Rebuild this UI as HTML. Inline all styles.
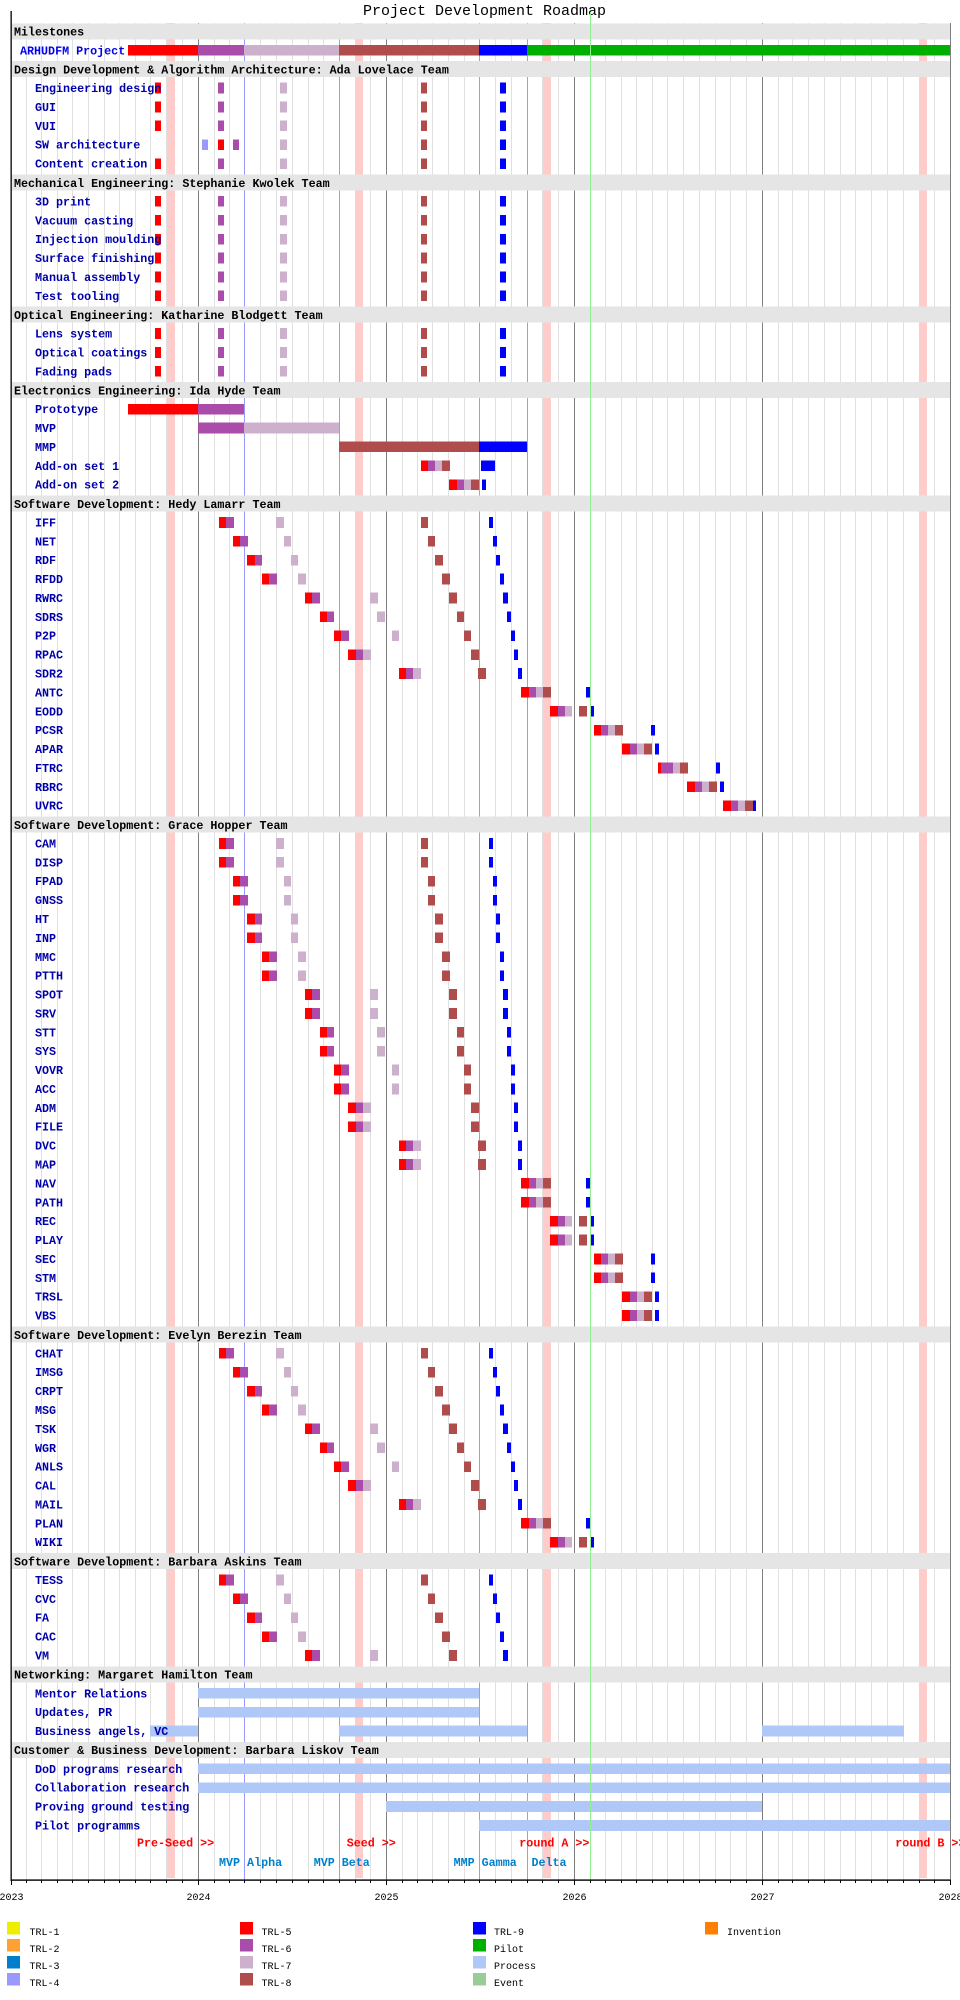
<!DOCTYPE html>
<html><head><meta charset="utf-8"><title>Project Development Roadmap</title>
<style>
html,body{margin:0;padding:0;background:#fff;}
svg{display:block;}
text{font-family:"Liberation Mono","DejaVu Sans Mono",monospace;}
.h{font-size:11.7px;font-weight:bold;fill:#000;}
.l{font-size:11.7px;font-weight:bold;fill:#0000aa;}
.ax{font-size:10px;fill:#000;}
.lg{font-size:10px;fill:#000;}
.an{font-size:11.7px;font-weight:bold;}
</style></head><body>
<svg width="960" height="2000" viewBox="0 0 960 2000" xmlns="http://www.w3.org/2000/svg">
<defs>
<g id="M" shape-rendering="crispEdges"><rect x="155" y="-5.35" width="6" height="10.7" fill="#ff0000"/><rect x="218" y="-5.35" width="6" height="10.7" fill="#aa4daa"/><rect x="280" y="-5.35" width="7" height="10.7" fill="#ccb0cc"/><rect x="421" y="-5.35" width="6" height="10.7" fill="#b04c4c"/><rect x="500" y="-5.35" width="6" height="10.7" fill="#0000ff"/></g>
<g id="SWA" shape-rendering="crispEdges"><rect x="202" y="-5.35" width="6" height="10.7" fill="#9999ff"/><rect x="218" y="-5.35" width="6" height="10.7" fill="#ff0000"/><rect x="233" y="-5.35" width="6" height="10.7" fill="#aa4daa"/><rect x="280" y="-5.35" width="7" height="10.7" fill="#ccb0cc"/><rect x="421" y="-5.35" width="6" height="10.7" fill="#b04c4c"/><rect x="500" y="-5.35" width="6" height="10.7" fill="#0000ff"/></g>
<g id="IFF" shape-rendering="crispEdges"><rect x="219" y="-5.35" width="7" height="10.7" fill="#ff0000"/><rect x="226" y="-5.35" width="8" height="10.7" fill="#aa4daa"/><rect x="276" y="-5.35" width="8" height="10.7" fill="#ccb0cc"/><rect x="421" y="-5.35" width="7" height="10.7" fill="#b04c4c"/><rect x="489" y="-5.35" width="4" height="10.7" fill="#0000ff"/></g>
<g id="NET" shape-rendering="crispEdges"><rect x="233" y="-5.35" width="7" height="10.7" fill="#ff0000"/><rect x="240" y="-5.35" width="8" height="10.7" fill="#aa4daa"/><rect x="284" y="-5.35" width="7" height="10.7" fill="#ccb0cc"/><rect x="428" y="-5.35" width="7" height="10.7" fill="#b04c4c"/><rect x="493" y="-5.35" width="4" height="10.7" fill="#0000ff"/></g>
<g id="RDF" shape-rendering="crispEdges"><rect x="247" y="-5.35" width="8" height="10.7" fill="#ff0000"/><rect x="255" y="-5.35" width="7" height="10.7" fill="#aa4daa"/><rect x="291" y="-5.35" width="7" height="10.7" fill="#ccb0cc"/><rect x="435" y="-5.35" width="8" height="10.7" fill="#b04c4c"/><rect x="496" y="-5.35" width="4" height="10.7" fill="#0000ff"/></g>
<g id="RFDD" shape-rendering="crispEdges"><rect x="262" y="-5.35" width="7" height="10.7" fill="#ff0000"/><rect x="269" y="-5.35" width="8" height="10.7" fill="#aa4daa"/><rect x="298" y="-5.35" width="8" height="10.7" fill="#ccb0cc"/><rect x="442" y="-5.35" width="8" height="10.7" fill="#b04c4c"/><rect x="500" y="-5.35" width="4" height="10.7" fill="#0000ff"/></g>
<g id="RWRC" shape-rendering="crispEdges"><rect x="305" y="-5.35" width="7" height="10.7" fill="#ff0000"/><rect x="312" y="-5.35" width="8" height="10.7" fill="#aa4daa"/><rect x="370" y="-5.35" width="8" height="10.7" fill="#ccb0cc"/><rect x="449" y="-5.35" width="8" height="10.7" fill="#b04c4c"/><rect x="503" y="-5.35" width="5" height="10.7" fill="#0000ff"/></g>
<g id="SDRS" shape-rendering="crispEdges"><rect x="320" y="-5.35" width="7" height="10.7" fill="#ff0000"/><rect x="327" y="-5.35" width="7" height="10.7" fill="#aa4daa"/><rect x="377" y="-5.35" width="8" height="10.7" fill="#ccb0cc"/><rect x="457" y="-5.35" width="7" height="10.7" fill="#b04c4c"/><rect x="507" y="-5.35" width="4" height="10.7" fill="#0000ff"/></g>
<g id="P2P" shape-rendering="crispEdges"><rect x="334" y="-5.35" width="7" height="10.7" fill="#ff0000"/><rect x="341" y="-5.35" width="8" height="10.7" fill="#aa4daa"/><rect x="392" y="-5.35" width="7" height="10.7" fill="#ccb0cc"/><rect x="464" y="-5.35" width="7" height="10.7" fill="#b04c4c"/><rect x="511" y="-5.35" width="4" height="10.7" fill="#0000ff"/></g>
<g id="RPAC" shape-rendering="crispEdges"><rect x="348" y="-5.35" width="8" height="10.7" fill="#ff0000"/><rect x="356" y="-5.35" width="7" height="10.7" fill="#aa4daa"/><rect x="363" y="-5.35" width="8" height="10.7" fill="#ccb0cc"/><rect x="471" y="-5.35" width="8" height="10.7" fill="#b04c4c"/><rect x="514" y="-5.35" width="4" height="10.7" fill="#0000ff"/></g>
<g id="SDR2" shape-rendering="crispEdges"><rect x="399" y="-5.35" width="7" height="10.7" fill="#ff0000"/><rect x="406" y="-5.35" width="7" height="10.7" fill="#aa4daa"/><rect x="413" y="-5.35" width="8" height="10.7" fill="#ccb0cc"/><rect x="478" y="-5.35" width="8" height="10.7" fill="#b04c4c"/><rect x="518" y="-5.35" width="4" height="10.7" fill="#0000ff"/></g>
<g id="ANTC" shape-rendering="crispEdges"><rect x="521" y="-5.35" width="8" height="10.7" fill="#ff0000"/><rect x="529" y="-5.35" width="7" height="10.7" fill="#aa4daa"/><rect x="536" y="-5.35" width="7" height="10.7" fill="#ccb0cc"/><rect x="543" y="-5.35" width="8" height="10.7" fill="#b04c4c"/><rect x="586" y="-5.35" width="4" height="10.7" fill="#0000ff"/></g>
<g id="EODD" shape-rendering="crispEdges"><rect x="550" y="-5.35" width="8" height="10.7" fill="#ff0000"/><rect x="558" y="-5.35" width="7" height="10.7" fill="#aa4daa"/><rect x="565" y="-5.35" width="7" height="10.7" fill="#ccb0cc"/><rect x="579" y="-5.35" width="8" height="10.7" fill="#b04c4c"/><rect x="591" y="-5.35" width="3" height="10.7" fill="#0000ff"/></g>
<g id="PCSR" shape-rendering="crispEdges"><rect x="594" y="-5.35" width="7" height="10.7" fill="#ff0000"/><rect x="601" y="-5.35" width="7" height="10.7" fill="#aa4daa"/><rect x="608" y="-5.35" width="7" height="10.7" fill="#ccb0cc"/><rect x="615" y="-5.35" width="8" height="10.7" fill="#b04c4c"/><rect x="651" y="-5.35" width="4" height="10.7" fill="#0000ff"/></g>
<g id="APAR" shape-rendering="crispEdges"><rect x="622" y="-5.35" width="8" height="10.7" fill="#ff0000"/><rect x="630" y="-5.35" width="7" height="10.7" fill="#aa4daa"/><rect x="637" y="-5.35" width="7" height="10.7" fill="#ccb0cc"/><rect x="644" y="-5.35" width="8" height="10.7" fill="#b04c4c"/><rect x="655" y="-5.35" width="4" height="10.7" fill="#0000ff"/></g>
<g id="FTRC" shape-rendering="crispEdges"><rect x="658" y="-5.35" width="3" height="10.7" fill="#ff0000"/><rect x="661" y="-5.35" width="12" height="10.7" fill="#aa4daa"/><rect x="673" y="-5.35" width="7" height="10.7" fill="#ccb0cc"/><rect x="680" y="-5.35" width="8" height="10.7" fill="#b04c4c"/><rect x="716" y="-5.35" width="4" height="10.7" fill="#0000ff"/></g>
<g id="RBRC" shape-rendering="crispEdges"><rect x="687" y="-5.35" width="8" height="10.7" fill="#ff0000"/><rect x="695" y="-5.35" width="7" height="10.7" fill="#aa4daa"/><rect x="702" y="-5.35" width="7" height="10.7" fill="#ccb0cc"/><rect x="709" y="-5.35" width="8" height="10.7" fill="#b04c4c"/><rect x="720" y="-5.35" width="4" height="10.7" fill="#0000ff"/></g>
<g id="UVRC" shape-rendering="crispEdges"><rect x="723" y="-5.35" width="8" height="10.7" fill="#ff0000"/><rect x="731" y="-5.35" width="7" height="10.7" fill="#aa4daa"/><rect x="738" y="-5.35" width="7" height="10.7" fill="#ccb0cc"/><rect x="745" y="-5.35" width="8" height="10.7" fill="#b04c4c"/><rect x="753" y="-5.35" width="3" height="10.7" fill="#0000ff"/></g>
</defs>

<rect x="0" y="0" width="960" height="2000" fill="#ffffff"/>

<!-- title -->
<text x="484.5" y="15" text-anchor="middle" style="font-size:15px;fill:#000">Project Development Roadmap</text>

<!-- month grid lines -->
<path shape-rendering="crispEdges" stroke="#e0e0e0" stroke-width="1" fill="none" d="M26.5 23V1880M41.5 23V1880M57.5 23V1880M72.5 23V1880M88.5 23V1880M104.5 23V1880M119.5 23V1880M135.5 23V1880M150.5 23V1880M166.5 23V1880M182.5 23V1880M214.5 23V1880M229.5 23V1880M260.5 23V1880M276.5 23V1880M292.5 23V1880M308.5 23V1880M323.5 23V1880M355.5 23V1880M370.5 23V1880M402.5 23V1880M417.5 23V1880M432.5 23V1880M448.5 23V1880M464.5 23V1880M495.5 23V1880M511.5 23V1880M542.5 23V1880M558.5 23V1880M605.5 23V1880M621.5 23V1880M636.5 23V1880M652.5 23V1880M667.5 23V1880M683.5 23V1880M699.5 23V1880M715.5 23V1880M730.5 23V1880M746.5 23V1880M778.5 23V1880M792.5 23V1880M808.5 23V1880M824.5 23V1880M840.5 23V1880M855.5 23V1880M871.5 23V1880M887.5 23V1880M903.5 23V1880M919.5 23V1880M934.5 23V1880"/>
<!-- year lines -->
<path shape-rendering="crispEdges" stroke="#808080" stroke-width="1" fill="none" d="M198.5 23V1880M386.5 23V1880M574.5 23V1880M762.5 23V1880M950.5 23V1880"/>
<!-- pink bands -->
<g fill="#ffcccc" shape-rendering="crispEdges">
<rect x="167" y="23" width="8" height="1855"/>
<rect x="355" y="23" width="8" height="1855"/>
<rect x="543" y="23" width="8" height="1855"/>
<rect x="919" y="23" width="8" height="1855"/>
</g>
<!-- milestone blue lines -->
<path shape-rendering="crispEdges" stroke="#9999ff" stroke-width="1" fill="none" d="M244.5 23V1880M339.5 23V1880M479.5 23V1880M527.5 23V1880"/>

<!-- header bands -->
<g fill="#e5e5e5" shape-rendering="crispEdges">
<rect x="11" y="23.4" width="939" height="16"/>
<rect x="11" y="61.17" width="939" height="16"/>
<rect x="11" y="174.48" width="939" height="16"/>
<rect x="11" y="306.68" width="939" height="16"/>
<rect x="11" y="382.22" width="939" height="16"/>
<rect x="11" y="495.53" width="939" height="16"/>
<rect x="11" y="816.57" width="939" height="16"/>
<rect x="11" y="1326.47" width="939" height="16"/>
<rect x="11" y="1553.09" width="939" height="16"/>
<rect x="11" y="1666.4" width="939" height="16"/>
<rect x="11" y="1741.94" width="939" height="16"/>
</g>

<!-- Milestone bar -->
<g shape-rendering="crispEdges" transform="translate(0,50.29)">
<rect x="128" y="-5.35" width="70" height="10.7" fill="#ff0000"/>
<rect x="198" y="-5.35" width="46" height="10.7" fill="#aa4daa"/>
<rect x="244" y="-5.35" width="95" height="10.7" fill="#ccb0cc"/>
<rect x="339" y="-5.35" width="140" height="10.7" fill="#b04c4c"/>
<rect x="479" y="-5.35" width="48" height="10.7" fill="#0000ff"/>
<rect x="527" y="-5.35" width="423" height="10.7" fill="#00b000"/>
</g>

<!-- Design / Mechanical / Optical -->
<use href="#M" y="88.06"/><use href="#M" y="106.94"/><use href="#M" y="125.83"/><use href="#SWA" y="144.71"/><use href="#M" y="163.6"/>
<use href="#M" y="201.37"/><use href="#M" y="220.25"/><use href="#M" y="239.14"/><use href="#M" y="258.02"/><use href="#M" y="276.91"/><use href="#M" y="295.79"/>
<use href="#M" y="333.56"/><use href="#M" y="352.45"/><use href="#M" y="371.33"/>

<!-- Electronics -->
<g shape-rendering="crispEdges">
<g transform="translate(0,409.1)"><rect x="128" y="-5.35" width="70" height="10.7" fill="#ff0000"/><rect x="198" y="-5.35" width="46" height="10.7" fill="#aa4daa"/></g>
<g transform="translate(0,427.99)"><rect x="198" y="-5.35" width="46" height="10.7" fill="#aa4daa"/><rect x="244" y="-5.35" width="95" height="10.7" fill="#ccb0cc"/></g>
<g transform="translate(0,446.87)"><rect x="339" y="-5.35" width="140" height="10.7" fill="#b04c4c"/><rect x="479" y="-5.35" width="48" height="10.7" fill="#0000ff"/></g>
<g transform="translate(0,465.76)"><rect x="421" y="-5.35" width="7" height="10.7" fill="#ff0000"/><rect x="428" y="-5.35" width="7" height="10.7" fill="#aa4daa"/><rect x="435" y="-5.35" width="7" height="10.7" fill="#ccb0cc"/><rect x="442" y="-5.35" width="8" height="10.7" fill="#b04c4c"/><rect x="481" y="-5.35" width="14" height="10.7" fill="#0000ff"/></g>
<g transform="translate(0,484.64)"><rect x="449" y="-5.35" width="8" height="10.7" fill="#ff0000"/><rect x="457" y="-5.35" width="7" height="10.7" fill="#aa4daa"/><rect x="464" y="-5.35" width="7" height="10.7" fill="#ccb0cc"/><rect x="471" y="-5.35" width="8" height="10.7" fill="#b04c4c"/><rect x="482" y="-5.35" width="4" height="10.7" fill="#0000ff"/></g>
</g>

<!-- Hedy -->
<use href="#IFF" y="522.41"/><use href="#NET" y="541.3"/><use href="#RDF" y="560.18"/><use href="#RFDD" y="579.07"/><use href="#RWRC" y="597.95"/><use href="#SDRS" y="616.84"/><use href="#P2P" y="635.72"/><use href="#RPAC" y="654.61"/><use href="#SDR2" y="673.49"/><use href="#ANTC" y="692.38"/><use href="#EODD" y="711.26"/><use href="#PCSR" y="730.15"/><use href="#APAR" y="749.03"/><use href="#FTRC" y="767.92"/><use href="#RBRC" y="786.8"/><use href="#UVRC" y="805.69"/>

<!-- Grace -->
<use href="#IFF" y="843.46"/><use href="#IFF" y="862.34"/><use href="#NET" y="881.23"/><use href="#NET" y="900.11"/><use href="#RDF" y="919.0"/><use href="#RDF" y="937.88"/><use href="#RFDD" y="956.77"/><use href="#RFDD" y="975.65"/><use href="#RWRC" y="994.54"/><use href="#RWRC" y="1013.42"/><use href="#SDRS" y="1032.31"/><use href="#SDRS" y="1051.19"/><use href="#P2P" y="1070.08"/><use href="#P2P" y="1088.96"/><use href="#RPAC" y="1107.85"/><use href="#RPAC" y="1126.73"/><use href="#SDR2" y="1145.62"/><use href="#SDR2" y="1164.5"/><use href="#ANTC" y="1183.39"/><use href="#ANTC" y="1202.27"/><use href="#EODD" y="1221.16"/><use href="#EODD" y="1240.04"/><use href="#PCSR" y="1258.93"/><use href="#PCSR" y="1277.81"/><use href="#APAR" y="1296.7"/><use href="#APAR" y="1315.58"/>

<!-- Evelyn -->
<use href="#IFF" y="1353.35"/><use href="#NET" y="1372.24"/><use href="#RDF" y="1391.12"/><use href="#RFDD" y="1410.01"/><use href="#RWRC" y="1428.89"/><use href="#SDRS" y="1447.78"/><use href="#P2P" y="1466.66"/><use href="#RPAC" y="1485.55"/><use href="#SDR2" y="1504.43"/><use href="#ANTC" y="1523.32"/><use href="#EODD" y="1542.2"/>

<!-- Askins -->
<use href="#IFF" y="1579.97"/><use href="#NET" y="1598.86"/><use href="#RDF" y="1617.74"/><use href="#RFDD" y="1636.63"/><use href="#RWRC" y="1655.51"/>

<!-- Networking / Customer -->
<g fill="#b0c8f8" shape-rendering="crispEdges">
<rect x="198" y="1687.93" width="281" height="10.7"/>
<rect x="198" y="1706.82" width="281" height="10.7"/>
<rect x="150" y="1725.7" width="48" height="10.7"/>
<rect x="339" y="1725.7" width="188" height="10.7"/>
<rect x="762" y="1725.7" width="142" height="10.7"/>
<rect x="198" y="1763.47" width="752" height="10.7"/>
<rect x="198" y="1782.36" width="752" height="10.7"/>
<rect x="386" y="1801.24" width="376" height="10.7"/>
<rect x="479" y="1820.13" width="471" height="10.7"/>
</g>

<!-- Header texts -->
<text class="h" x="14" y="35.7">Milestones</text>
<text class="h" x="14" y="73.47">Design Development &amp; Algorithm Architecture: Ada Lovelace Team</text>
<text class="h" x="14" y="186.78">Mechanical Engineering: Stephanie Kwolek Team</text>
<text class="h" x="14" y="318.98">Optical Engineering: Katharine Blodgett Team</text>
<text class="h" x="14" y="394.52">Electronics Engineering: Ida Hyde Team</text>
<text class="h" x="14" y="507.83">Software Development: Hedy Lamarr Team</text>
<text class="h" x="14" y="828.87">Software Development: Grace Hopper Team</text>
<text class="h" x="14" y="1338.77">Software Development: Evelyn Berezin Team</text>
<text class="h" x="14" y="1565.39">Software Development: Barbara Askins Team</text>
<text class="h" x="14" y="1678.7">Networking: Margaret Hamilton Team</text>
<text class="h" x="14" y="1754.24">Customer &amp; Business Development: Barbara Liskov Team</text>

<!-- Row labels -->
<text class="l" x="20" y="54.3" style="fill:#0000ee">ARHUDFM Project</text>
<text class="l" x="35" y="92.06">Engineering design</text>
<text class="l" x="35" y="110.94">GUI</text>
<text class="l" x="35" y="129.83">VUI</text>
<text class="l" x="35" y="148.71">SW architecture</text>
<text class="l" x="35" y="167.6">Content creation</text>
<text class="l" x="35" y="205.37">3D print</text>
<text class="l" x="35" y="224.25">Vacuum casting</text>
<text class="l" x="35" y="243.14">Injection moulding</text>
<text class="l" x="35" y="262.02">Surface finishing</text>
<text class="l" x="35" y="280.91">Manual assembly</text>
<text class="l" x="35" y="299.79">Test tooling</text>
<text class="l" x="35" y="337.56">Lens system</text>
<text class="l" x="35" y="356.45">Optical coatings</text>
<text class="l" x="35" y="375.33">Fading pads</text>
<text class="l" x="35" y="413.1">Prototype</text>
<text class="l" x="35" y="431.99">MVP</text>
<text class="l" x="35" y="450.87">MMP</text>
<text class="l" x="35" y="469.76">Add-on set 1</text>
<text class="l" x="35" y="488.64">Add-on set 2</text>
<text class="l" x="35" y="526.41">IFF</text>
<text class="l" x="35" y="545.3">NET</text>
<text class="l" x="35" y="564.18">RDF</text>
<text class="l" x="35" y="583.07">RFDD</text>
<text class="l" x="35" y="601.95">RWRC</text>
<text class="l" x="35" y="620.84">SDRS</text>
<text class="l" x="35" y="639.72">P2P</text>
<text class="l" x="35" y="658.61">RPAC</text>
<text class="l" x="35" y="677.49">SDR2</text>
<text class="l" x="35" y="696.38">ANTC</text>
<text class="l" x="35" y="715.26">EODD</text>
<text class="l" x="35" y="734.15">PCSR</text>
<text class="l" x="35" y="753.03">APAR</text>
<text class="l" x="35" y="771.92">FTRC</text>
<text class="l" x="35" y="790.8">RBRC</text>
<text class="l" x="35" y="809.69">UVRC</text>
<text class="l" x="35" y="847.46">CAM</text>
<text class="l" x="35" y="866.34">DISP</text>
<text class="l" x="35" y="885.23">FPAD</text>
<text class="l" x="35" y="904.11">GNSS</text>
<text class="l" x="35" y="923.0">HT</text>
<text class="l" x="35" y="941.88">INP</text>
<text class="l" x="35" y="960.77">MMC</text>
<text class="l" x="35" y="979.65">PTTH</text>
<text class="l" x="35" y="998.54">SPOT</text>
<text class="l" x="35" y="1017.42">SRV</text>
<text class="l" x="35" y="1036.31">STT</text>
<text class="l" x="35" y="1055.19">SYS</text>
<text class="l" x="35" y="1074.08">VOVR</text>
<text class="l" x="35" y="1092.96">ACC</text>
<text class="l" x="35" y="1111.85">ADM</text>
<text class="l" x="35" y="1130.73">FILE</text>
<text class="l" x="35" y="1149.62">DVC</text>
<text class="l" x="35" y="1168.5">MAP</text>
<text class="l" x="35" y="1187.39">NAV</text>
<text class="l" x="35" y="1206.27">PATH</text>
<text class="l" x="35" y="1225.16">REC</text>
<text class="l" x="35" y="1244.04">PLAY</text>
<text class="l" x="35" y="1262.93">SEC</text>
<text class="l" x="35" y="1281.81">STM</text>
<text class="l" x="35" y="1300.7">TRSL</text>
<text class="l" x="35" y="1319.58">VBS</text>
<text class="l" x="35" y="1357.35">CHAT</text>
<text class="l" x="35" y="1376.24">IMSG</text>
<text class="l" x="35" y="1395.12">CRPT</text>
<text class="l" x="35" y="1414.01">MSG</text>
<text class="l" x="35" y="1432.89">TSK</text>
<text class="l" x="35" y="1451.78">WGR</text>
<text class="l" x="35" y="1470.66">ANLS</text>
<text class="l" x="35" y="1489.55">CAL</text>
<text class="l" x="35" y="1508.43">MAIL</text>
<text class="l" x="35" y="1527.32">PLAN</text>
<text class="l" x="35" y="1546.2">WIKI</text>
<text class="l" x="35" y="1583.97">TESS</text>
<text class="l" x="35" y="1602.86">CVC</text>
<text class="l" x="35" y="1621.74">FA</text>
<text class="l" x="35" y="1640.63">CAC</text>
<text class="l" x="35" y="1659.51">VM</text>
<text class="l" x="35" y="1697.28">Mentor Relations</text>
<text class="l" x="35" y="1716.17">Updates, PR</text>
<text class="l" x="35" y="1735.05">Business angels, VC</text>
<text class="l" x="35" y="1772.82">DoD programs research</text>
<text class="l" x="35" y="1791.71">Collaboration research</text>
<text class="l" x="35" y="1810.59">Proving ground testing</text>
<text class="l" x="35" y="1829.48">Pilot programms</text>

<!-- bottom annotations -->
<g class="an">
<text class="an" x="137" y="1846.7" fill="#ff0000">Pre-Seed &gt;&gt;</text>
<text class="an" x="346.7" y="1846.7" fill="#ff0000">Seed &gt;&gt;</text>
<text class="an" x="519.3" y="1846.7" fill="#ff0000">round A &gt;&gt;</text>
<text class="an" x="895.3" y="1846.7" fill="#ff0000">round B &gt;&gt;</text>
<text class="an" x="219" y="1866" fill="#0080cc">MVP Alpha</text>
<text class="an" x="313.7" y="1866" fill="#0080cc">MVP Beta</text>
<text class="an" x="453.6" y="1866" fill="#0080cc">MMP Gamma</text>
<text class="an" x="531.5" y="1866" fill="#0080cc">Delta</text>
</g>

<!-- today line -->
<rect x="590" y="12" width="1" height="1868" fill="#90ee90"/>

<!-- axes -->
<rect x="10.5" y="11" width="1.3" height="1870" fill="#000"/>
<rect x="11" y="1879.4" width="939.5" height="1.4" fill="#000"/>
<path shape-rendering="crispEdges" stroke="#000" stroke-width="1" fill="none" d="M26.5 1880V1883M41.5 1880V1883M57.5 1880V1883M72.5 1880V1883M88.5 1880V1883M104.5 1880V1883M119.5 1880V1883M135.5 1880V1883M150.5 1880V1883M166.5 1880V1883M182.5 1880V1883M214.5 1880V1883M229.5 1880V1883M244.5 1880V1883M260.5 1880V1883M276.5 1880V1883M292.5 1880V1883M308.5 1880V1883M323.5 1880V1883M339.5 1880V1883M355.5 1880V1883M370.5 1880V1883M402.5 1880V1883M417.5 1880V1883M432.5 1880V1883M448.5 1880V1883M464.5 1880V1883M479.5 1880V1883M495.5 1880V1883M511.5 1880V1883M527.5 1880V1883M542.5 1880V1883M558.5 1880V1883M590.5 1880V1883M605.5 1880V1883M621.5 1880V1883M636.5 1880V1883M652.5 1880V1883M667.5 1880V1883M683.5 1880V1883M699.5 1880V1883M715.5 1880V1883M730.5 1880V1883M746.5 1880V1883M778.5 1880V1883M792.5 1880V1883M808.5 1880V1883M824.5 1880V1883M840.5 1880V1883M855.5 1880V1883M871.5 1880V1883M887.5 1880V1883M903.5 1880V1883M919.5 1880V1883M934.5 1880V1883M11.5 1880V1885M198.5 1880V1885M386.5 1880V1885M574.5 1880V1885M762.5 1880V1885M950.5 1880V1885"/>
<g class="ax" text-anchor="middle">
<text class="ax" x="11.5" y="1900">2023</text>
<text class="ax" x="198.5" y="1900">2024</text>
<text class="ax" x="386.5" y="1900">2025</text>
<text class="ax" x="574.5" y="1900">2026</text>
<text class="ax" x="762.5" y="1900">2027</text>
<text class="ax" x="950.5" y="1900">2028</text>
</g>

<!-- legend -->
<g shape-rendering="crispEdges">
<rect x="7" y="1922" width="13" height="12.5" fill="#eeee00"/>
<rect x="7" y="1939" width="13" height="12.5" fill="#ffa030"/>
<rect x="7" y="1956" width="13" height="12.5" fill="#0080cc"/>
<rect x="7" y="1973" width="13" height="12.5" fill="#9999ff"/>
<rect x="240" y="1922" width="13" height="12.5" fill="#ff0000"/>
<rect x="240" y="1939" width="13" height="12.5" fill="#aa4daa"/>
<rect x="240" y="1956" width="13" height="12.5" fill="#ccb0cc"/>
<rect x="240" y="1973" width="13" height="12.5" fill="#b04c4c"/>
<rect x="473" y="1922" width="13" height="12.5" fill="#0000ff"/>
<rect x="473" y="1939" width="13" height="12.5" fill="#00b000"/>
<rect x="473" y="1956" width="13" height="12.5" fill="#b0c8f8"/>
<rect x="473" y="1973" width="13" height="12.5" fill="#99cc99"/>
<rect x="705" y="1922" width="13" height="12.5" fill="#ff8000"/>
</g>
<text class="lg" x="29.5" y="1935">TRL-1</text>
<text class="lg" x="29.5" y="1952">TRL-2</text>
<text class="lg" x="29.5" y="1969">TRL-3</text>
<text class="lg" x="29.5" y="1986">TRL-4</text>
<text class="lg" x="261.5" y="1935">TRL-5</text>
<text class="lg" x="261.5" y="1952">TRL-6</text>
<text class="lg" x="261.5" y="1969">TRL-7</text>
<text class="lg" x="261.5" y="1986">TRL-8</text>
<text class="lg" x="494" y="1935">TRL-9</text>
<text class="lg" x="494" y="1952">Pilot</text>
<text class="lg" x="494" y="1969">Process</text>
<text class="lg" x="494" y="1986">Event</text>
<text class="lg" x="727" y="1935">Invention</text>
</svg>
</body></html>
